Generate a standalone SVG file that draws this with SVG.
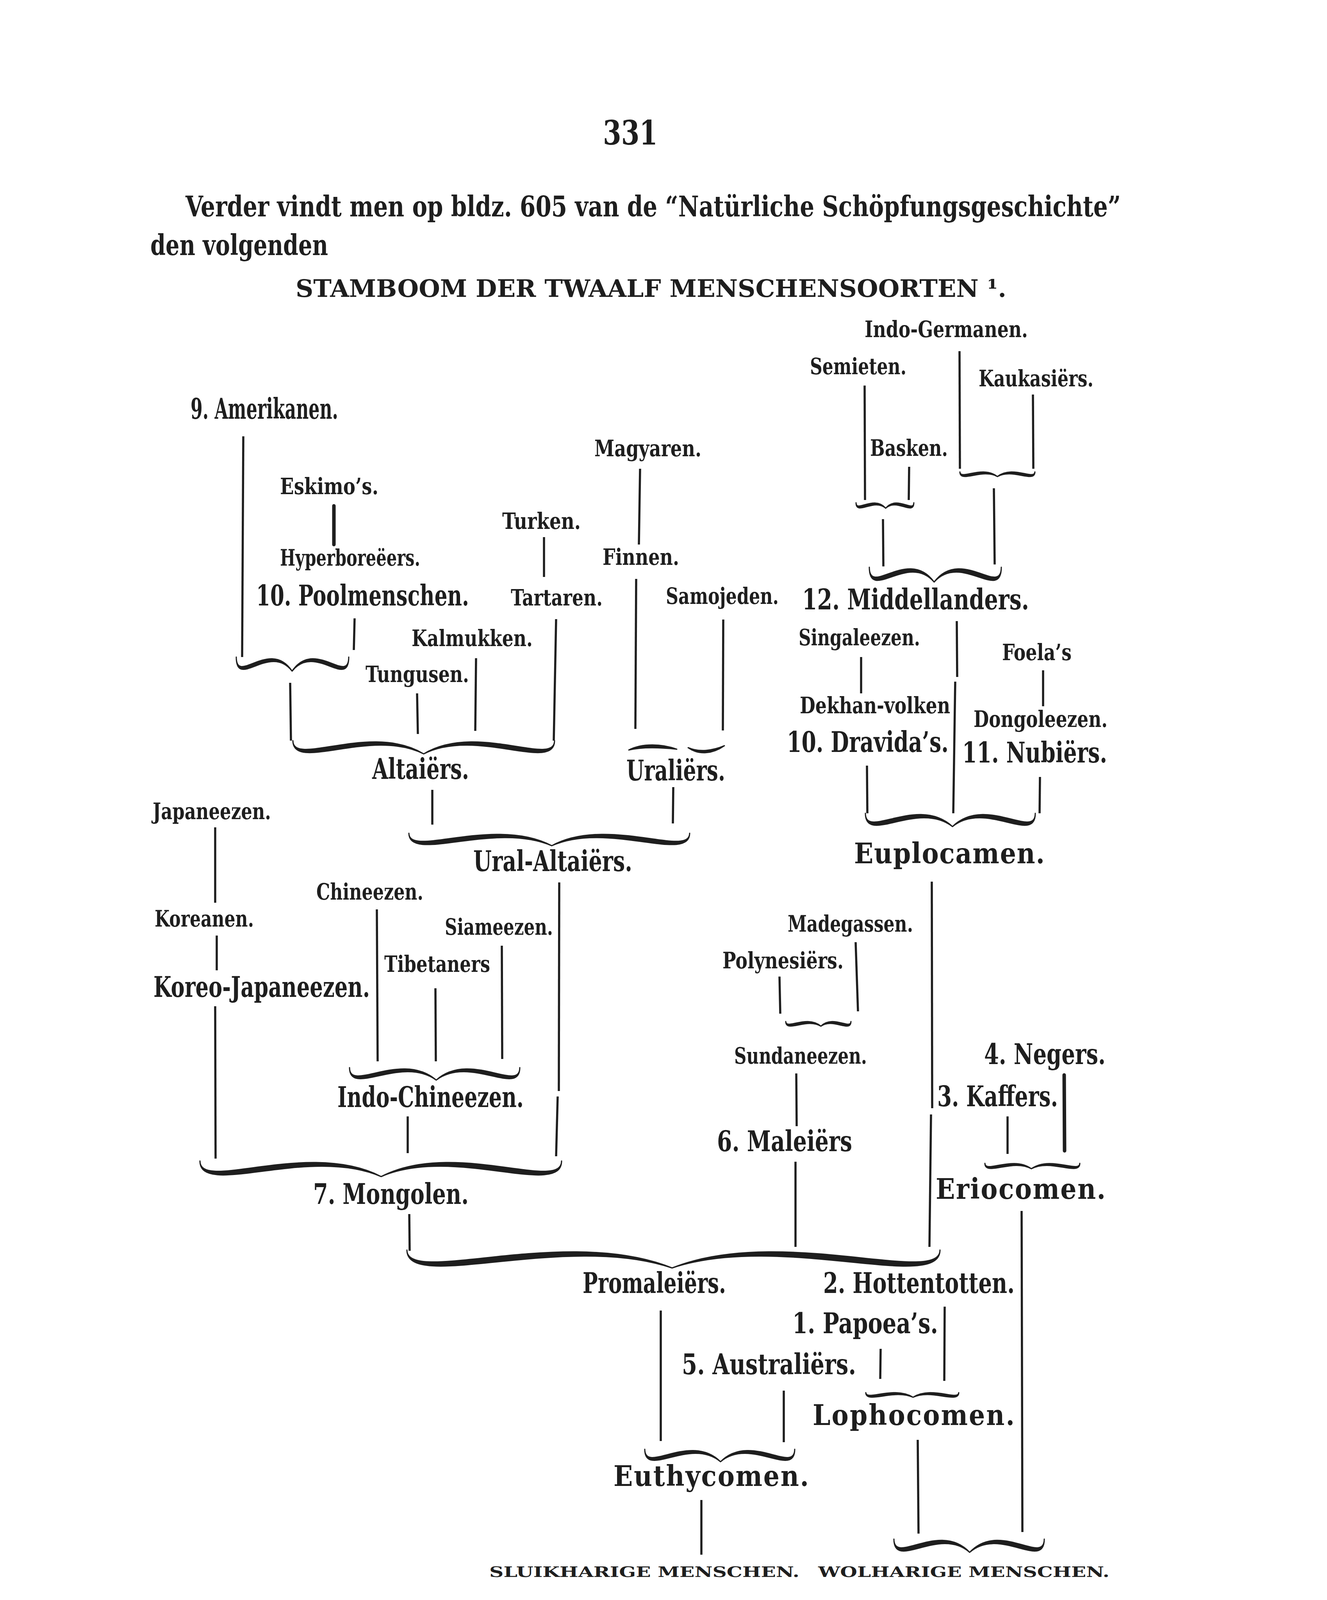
<svg xmlns="http://www.w3.org/2000/svg" width="3398" height="5162" viewBox="0 0 3398 5162">
<style>
text{font-family:'DejaVu Serif Condensed','DejaVu Serif','Liberation Serif',serif;font-stretch:condensed;font-weight:bold;fill:#1e1e1e}
.B{font-size:72px}
.H{font-size:62px}
.N{font-size:86px}
.L{font-size:72px}
.S{font-size:58px}
.C{font-size:38px}
.O{font-size:58px;font-weight:normal}
.F{font-size:58px}
.ln{stroke:#1e1e1e;stroke-width:5.5;fill:none}
.tk{stroke-width:9;stroke-linecap:round}
.br{fill:#1e1e1e;stroke:#1e1e1e;stroke-width:3;stroke-linejoin:round}
</style>
<rect width="3398" height="5162" fill="#fff"/>
<g id="header">
<text class="N" x="1544" y="370" textLength="140" lengthAdjust="spacingAndGlyphs">331</text>
<text class="B" x="475" y="554" textLength="2395" lengthAdjust="spacingAndGlyphs">Verder vindt men op bldz. 605 van de “Natürliche Schöpfungsgeschichte”</text>
<text class="B" x="385" y="653" textLength="455" lengthAdjust="spacingAndGlyphs">den volgenden</text>
<text class="H" x="757" y="760" textLength="1820" lengthAdjust="spacingAndGlyphs">STAMBOOM DER TWAALF MENSCHENSOORTEN ¹.</text>
</g>
<g id="connectors">
<line class="ln" x1="623" y1="1117" x2="620" y2="1682"/>
<line class="ln" x1="1639" y1="1200" x2="1636" y2="1394"/>
<line class="ln tk" x1="855" y1="1295" x2="855" y2="1394"/>
<line class="ln" x1="1393" y1="1375" x2="1393" y2="1477"/>
<line class="ln" x1="908" y1="1583" x2="906" y2="1664"/>
<line class="ln" x1="743" y1="1748" x2="745" y2="1896"/>
<line class="ln" x1="1068" y1="1775" x2="1070" y2="1879"/>
<line class="ln" x1="1219" y1="1685" x2="1217" y2="1871"/>
<line class="ln" x1="1424" y1="1585" x2="1418" y2="1896"/>
<line class="ln" x1="1629" y1="1482" x2="1627" y2="1866"/>
<line class="ln" x1="1852" y1="1586" x2="1851" y2="1870"/>
<line class="ln" x1="1107" y1="2022" x2="1107" y2="2111"/>
<line class="ln" x1="1724" y1="2015" x2="1723" y2="2108"/>
<line class="ln" x1="2214" y1="987" x2="2215" y2="1280"/>
<line class="ln" x1="2457" y1="899" x2="2458" y2="1200"/>
<line class="ln" x1="2645" y1="1010" x2="2646" y2="1200"/>
<line class="ln" x1="2328" y1="1195" x2="2327" y2="1280"/>
<line class="ln" x1="2261" y1="1329" x2="2262" y2="1450"/>
<line class="ln" x1="2545" y1="1250" x2="2547" y2="1445"/>
<line class="ln" x1="2450" y1="1590" x2="2451" y2="1733"/>
<line class="ln" x1="2446" y1="1745" x2="2441" y2="2082"/>
<line class="ln" x1="2205" y1="1682" x2="2205" y2="1775"/>
<line class="ln" x1="2671" y1="1716" x2="2671" y2="1808"/>
<line class="ln" x1="2220" y1="1960" x2="2221" y2="2082"/>
<line class="ln" x1="2663" y1="1989" x2="2662" y2="2082"/>
<line class="ln" x1="551" y1="2118" x2="551" y2="2311"/>
<line class="ln" x1="555" y1="2395" x2="555" y2="2484"/>
<line class="ln" x1="551" y1="2576" x2="552" y2="2966"/>
<line class="ln" x1="965" y1="2328" x2="967" y2="2717"/>
<line class="ln" x1="1115" y1="2530" x2="1116" y2="2717"/>
<line class="ln" x1="1285" y1="2421" x2="1286" y2="2711"/>
<line class="ln" x1="1432" y1="2259" x2="1431" y2="2793"/>
<line class="ln" x1="1428" y1="2807" x2="1424" y2="2960"/>
<line class="ln" x1="1044" y1="2858" x2="1044" y2="2952"/>
<line class="ln" x1="1048" y1="3108" x2="1049" y2="3202"/>
<line class="ln" x1="2386" y1="2257" x2="2387" y2="2837"/>
<line class="ln" x1="2384" y1="2853" x2="2380" y2="3192"/>
<line class="ln" x1="2191" y1="2412" x2="2197" y2="2589"/>
<line class="ln" x1="1996" y1="2500" x2="1998" y2="2595"/>
<line class="ln" x1="2039" y1="2748" x2="2040" y2="2883"/>
<line class="ln" x1="2037" y1="2974" x2="2037" y2="3192"/>
<line class="ln tk" x1="2725" y1="2752" x2="2726" y2="2946"/>
<line class="ln" x1="2580" y1="2858" x2="2580" y2="2954"/>
<line class="ln" x1="2616" y1="3100" x2="2618" y2="3922"/>
<line class="ln" x1="1692" y1="3355" x2="1692" y2="3689"/>
<line class="ln" x1="2419" y1="3345" x2="2418" y2="3535"/>
<line class="ln" x1="2255" y1="3453" x2="2254" y2="3530"/>
<line class="ln" x1="2007" y1="3560" x2="2007" y2="3692"/>
<line class="ln" x1="1796" y1="3840" x2="1796" y2="3980"/>
<line class="ln" x1="2350" y1="3686" x2="2352" y2="3926"/>
<line class="ln" x1="1677" y1="4176" x2="1677" y2="4273"/>
<line class="ln" x1="2411" y1="4176" x2="2411" y2="4273"/>
<path class="br" d="M2192,1287 C2192,1313.8 2237.6,1266.2 2268,1301 C2237.6,1274.2 2192,1321.8 2192,1287Z M2340,1287 C2340,1313.8 2296.8,1266.2 2268,1301 C2296.8,1274.2 2340,1321.8 2340,1287Z"/>
<path class="br" d="M2458,1208 C2458,1230.4 2515.6,1189.6 2554,1220 C2515.6,1197.6 2458,1238.4 2458,1208Z M2650,1208 C2650,1230.4 2592.4,1189.6 2554,1220 C2592.4,1197.6 2650,1238.4 2650,1208Z"/>
<path class="br" d="M2226,1452 C2226,1528.6 2325.6,1399.4 2392,1490 C2325.6,1413.4 2226,1542.6 2226,1452Z M2564,1452 C2564,1528.6 2460.8,1399.4 2392,1490 C2460.8,1413.4 2564,1542.6 2564,1452Z"/>
<path class="br" d="M605,1682 C605,1755.2 690.8,1632.8 748,1718 C690.8,1644.8 605,1767.2 605,1682Z M893,1682 C893,1755.2 806,1632.8 748,1718 C806,1644.8 893,1767.2 893,1682Z"/>
<path class="br" d="M750,1896 C750,1963.8 951,1848.2 1085,1930 C951,1862.2 750,1977.8 750,1896Z M1420,1896 C1420,1963.8 1219,1848.2 1085,1930 C1219,1862.2 1420,1977.8 1420,1896Z"/>
<path class="br" d="M1610,1920 C1645,1902 1695,1904 1733,1918 C1695,1914 1645,1912 1610,1920Z M1762,1914 C1790,1926 1825,1922 1855,1909 C1825,1930 1790,1934 1762,1914Z"/>
<path class="br" d="M1047,2133 C1047,2196.4 1266.6,2087.6 1413,2165 C1266.6,2101.6 1047,2210.4 1047,2133Z M1766,2133 C1766,2196.4 1554.2,2087.6 1413,2165 C1554.2,2101.6 1766,2210.4 1766,2133Z"/>
<path class="br" d="M2216,2082 C2216,2149.8 2349.8,2034.2 2439,2116 C2349.8,2048.2 2216,2163.8 2216,2082Z M2651,2082 C2651,2149.8 2523.8,2034.2 2439,2116 C2523.8,2048.2 2651,2163.8 2651,2082Z"/>
<path class="br" d="M895,2733 C895,2797.4 1028.2,2688.6 1117,2765 C1028.2,2700.6 895,2809.4 895,2733Z M1331,2733 C1331,2797.4 1202.6,2688.6 1117,2765 C1202.6,2700.6 1331,2809.4 1331,2733Z"/>
<path class="br" d="M512,2972 C512,3052 790.4,2916 976,3012 C790.4,2932 512,3068 512,2972Z M1438,2972 C1438,3052 1160.8,2916 976,3012 C1160.8,2932 1438,3068 1438,2972Z"/>
<path class="br" d="M2012,2615 C2012,2637.4 2066,2596.6 2102,2627 C2066,2604.6 2012,2645.4 2012,2615Z M2179,2615 C2179,2637.4 2132.8,2596.6 2102,2627 C2132.8,2604.6 2179,2645.4 2179,2615Z"/>
<path class="br" d="M2522,2978 C2522,3004.8 2593.4,2957.2 2641,2992 C2593.4,2965.2 2522,3012.8 2522,2978Z M2765,2978 C2765,3004.8 2690.6,2957.2 2641,2992 C2690.6,2965.2 2765,3012.8 2765,2978Z"/>
<path class="br" d="M1042,3200 C1042,3292.2 1449.4,3135.8 1721,3246 C1449.4,3153.8 1042,3310.2 1042,3200Z M2407,3200 C2407,3292.2 1995.4,3135.8 1721,3246 C1995.4,3153.8 2407,3310.2 2407,3200Z"/>
<path class="br" d="M2217,3565 C2217,3587.4 2289.6,3546.6 2338,3577 C2289.6,3554.6 2217,3595.4 2217,3565Z M2455,3565 C2455,3587.4 2384.8,3546.6 2338,3577 C2384.8,3554.6 2455,3595.4 2455,3565Z"/>
<path class="br" d="M1651,3710 C1651,3774.4 1767.4,3665.6 1845,3742 C1767.4,3677.6 1651,3786.4 1651,3710Z M2035,3710 C2035,3774.4 1921,3665.6 1845,3742 C1921,3677.6 2035,3786.4 2035,3710Z"/>
<path class="br" d="M2289,3940 C2289,4007.8 2405.4,3892.2 2483,3974 C2405.4,3906.2 2289,4021.8 2289,3940Z M2674,3940 C2674,4007.8 2559.4,3892.2 2483,3974 C2559.4,3906.2 2674,4021.8 2674,3940Z"/>
<path class="br" d="M1692,4296 C1692,4347.2 1908.6,4258.8 2053,4322 C1908.6,4270.8 1692,4359.2 1692,4296Z M2411,4296 C2411,4347.2 2196.2,4258.8 2053,4322 C2196.2,4270.8 2411,4359.2 2411,4296Z"/>
</g>
<g id="n-indogermanen"><text class="S" x="2214" y="863" textLength="418" lengthAdjust="spacingAndGlyphs">Indo-Germanen.</text></g>
<g id="n-semieten"><text class="S" x="2074" y="958" textLength="247" lengthAdjust="spacingAndGlyphs">Semieten.</text></g>
<g id="n-kaukasiers"><text class="S" x="2506" y="989" textLength="294" lengthAdjust="spacingAndGlyphs">Kaukasiërs.</text></g>
<g id="n-basken"><text class="S" x="2228" y="1167" textLength="199" lengthAdjust="spacingAndGlyphs">Basken.</text></g>
<g id="n-middellanders"><text class="L" x="2054" y="1560" textLength="581" lengthAdjust="spacingAndGlyphs">12.  Middellanders.</text></g>
<g id="n-amerikanen"><text class="L" x="488" y="1072" textLength="378" lengthAdjust="spacingAndGlyphs">9. Amerikanen.</text></g>
<g id="n-magyaren"><text class="S" x="1522" y="1168" textLength="274" lengthAdjust="spacingAndGlyphs">Magyaren.</text></g>
<g id="n-eskimos"><text class="S" x="717" y="1265" textLength="252" lengthAdjust="spacingAndGlyphs">Eskimo’s.</text></g>
<g id="n-turken"><text class="S" x="1286" y="1354" textLength="201" lengthAdjust="spacingAndGlyphs">Turken.</text></g>
<g id="n-hyperboreeers"><text class="S" x="717" y="1448" textLength="359" lengthAdjust="spacingAndGlyphs">Hyperboreëers.</text></g>
<g id="n-finnen"><text class="S" x="1543" y="1446" textLength="196" lengthAdjust="spacingAndGlyphs">Finnen.</text></g>
<g id="n-poolmenschen"><text class="L" x="656" y="1550" textLength="545" lengthAdjust="spacingAndGlyphs">10. Poolmenschen.</text></g>
<g id="n-tartaren"><text class="S" x="1308" y="1550" textLength="235" lengthAdjust="spacingAndGlyphs">Tartaren.</text></g>
<g id="n-samojeden"><text class="S" x="1705" y="1546" textLength="289" lengthAdjust="spacingAndGlyphs">Samojeden.</text></g>
<g id="n-kalmukken"><text class="S" x="1054" y="1654" textLength="310" lengthAdjust="spacingAndGlyphs">Kalmukken.</text></g>
<g id="n-tungusen"><text class="S" x="936" y="1746" textLength="265" lengthAdjust="spacingAndGlyphs">Tungusen.</text></g>
<g id="n-altaiers"><text class="L" x="953" y="1994" textLength="248" lengthAdjust="spacingAndGlyphs">Altaiërs.</text></g>
<g id="n-uraliers"><text class="L" x="1604" y="1998" textLength="253" lengthAdjust="spacingAndGlyphs">Uraliërs.</text></g>
<g id="n-uralaltaiers"><text class="L" x="1212" y="2230" textLength="407" lengthAdjust="spacingAndGlyphs">Ural-Altaiërs.</text></g>
<g id="n-singaleezen"><text class="S" x="2045" y="1652" textLength="311" lengthAdjust="spacingAndGlyphs">Singaleezen.</text></g>
<g id="n-foelas"><text class="S" x="2566" y="1690" textLength="178" lengthAdjust="spacingAndGlyphs">Foela’s</text></g>
<g id="n-dekhan"><text class="S" x="2048" y="1826" textLength="385" lengthAdjust="spacingAndGlyphs">Dekhan-volken</text></g>
<g id="n-dongoleezen"><text class="S" x="2493" y="1861" textLength="343" lengthAdjust="spacingAndGlyphs">Dongoleezen.</text></g>
<g id="n-dravidas"><text class="L" x="2015" y="1925" textLength="414" lengthAdjust="spacingAndGlyphs">10. Dravida’s.</text></g>
<g id="n-nubiers"><text class="L" x="2464" y="1952" textLength="371" lengthAdjust="spacingAndGlyphs">11. Nubiërs.</text></g>
<g id="n-euplocamen"><text class="L" x="2187" y="2210" textLength="488" lengthAdjust="spacing">Euplocamen.</text></g>
<g id="n-japaneezen"><text class="S" x="391" y="2097" textLength="303" lengthAdjust="spacingAndGlyphs">Japaneezen.</text></g>
<g id="n-chineezen"><text class="S" x="810" y="2303" textLength="274" lengthAdjust="spacingAndGlyphs">Chineezen.</text></g>
<g id="n-koreanen"><text class="S" x="396" y="2372" textLength="254" lengthAdjust="spacingAndGlyphs">Koreanen.</text></g>
<g id="n-siameezen"><text class="S" x="1139" y="2393" textLength="277" lengthAdjust="spacingAndGlyphs">Siameezen.</text></g>
<g id="n-tibetaners"><text class="S" x="984" y="2488" textLength="271" lengthAdjust="spacingAndGlyphs">Tibetaners</text></g>
<g id="n-koreojapaneezen"><text class="L" x="393" y="2552" textLength="554" lengthAdjust="spacingAndGlyphs">Koreo-Japaneezen.</text></g>
<g id="n-indochineezen"><text class="L" x="864" y="2834" textLength="477" lengthAdjust="spacingAndGlyphs">Indo-Chineezen.</text></g>
<g id="n-mongolen"><text class="L" x="802" y="3082" textLength="398" lengthAdjust="spacingAndGlyphs">7.  Mongolen.</text></g>
<g id="n-madegassen"><text class="S" x="2017" y="2385" textLength="321" lengthAdjust="spacingAndGlyphs">Madegassen.</text></g>
<g id="n-polynesiers"><text class="S" x="1850" y="2479" textLength="310" lengthAdjust="spacingAndGlyphs">Polynesiërs.</text></g>
<g id="n-sundaneezen"><text class="S" x="1880" y="2723" textLength="340" lengthAdjust="spacingAndGlyphs">Sundaneezen.</text></g>
<g id="n-negers"><text class="L" x="2520" y="2724" textLength="311" lengthAdjust="spacingAndGlyphs">4. Negers.</text></g>
<g id="n-kaffers"><text class="L" x="2400" y="2832" textLength="309" lengthAdjust="spacingAndGlyphs">3. Kaffers.</text></g>
<g id="n-maleiers"><text class="L" x="1836" y="2947" textLength="346" lengthAdjust="spacingAndGlyphs">6.  Maleiërs</text></g>
<g id="n-eriocomen"><text class="L" x="2396" y="3069" textLength="435" lengthAdjust="spacing">Eriocomen.</text></g>
<g id="n-promaleiers"><text class="L" x="1492" y="3310" textLength="367" lengthAdjust="spacingAndGlyphs">Promaleiërs.</text></g>
<g id="n-hottentotten"><text class="L" x="2108" y="3310" textLength="490" lengthAdjust="spacingAndGlyphs">2.  Hottentotten.</text></g>
<g id="n-papoeas"><text class="L" x="2029" y="3413" textLength="373" lengthAdjust="spacingAndGlyphs">1.  Papoea’s.</text></g>
<g id="n-australiers"><text class="L" x="1746" y="3518" textLength="446" lengthAdjust="spacingAndGlyphs">5.  Australiërs.</text></g>
<g id="n-lophocomen"><text class="L" x="2081" y="3648" textLength="517" lengthAdjust="spacing">Lophocomen.</text></g>
<g id="n-euthycomen"><text class="L" x="1571" y="3804" textLength="500" lengthAdjust="spacing">Euthycomen.</text></g>
<g id="n-sluikharige"><text class="C" x="1253" y="4037" textLength="794" lengthAdjust="spacingAndGlyphs">SLUIKHARIGE MENSCHEN.</text></g>
<g id="n-wolharige"><text class="C" x="2095" y="4037" textLength="746" lengthAdjust="spacingAndGlyphs">WOLHARIGE MENSCHEN.</text></g>
<g id="n-lissotrichen"><text class="L" x="1340" y="4158" textLength="610" lengthAdjust="spacing">(Lissotrichen.).</text></g>
<g id="n-ulotrichen"><text class="L" x="2184" y="4158" textLength="502" lengthAdjust="spacing">(Ulotrichen).</text></g>
<g id="n-oorspronkelijke"><text class="O" x="1692" y="4371" textLength="706" lengthAdjust="spacingAndGlyphs">Oorspronkelijke menschen.</text></g>
<g id="footnote">
<line class="ln" x1="420" y1="4400" x2="765" y2="4400"/>
<text class="F" x="480" y="4504" textLength="2371" lengthAdjust="spacingAndGlyphs">¹ Haeckel gebruikt hier eenige namen van zijn vinding voor de stamouders van som-</text>
<text class="F" x="410" y="4610" textLength="2441" lengthAdjust="spacingAndGlyphs">mige groepen van volken en rassen of soorten. Zoo noemt hij b. v. het gemeenschappe-</text>
</g>
</svg>
